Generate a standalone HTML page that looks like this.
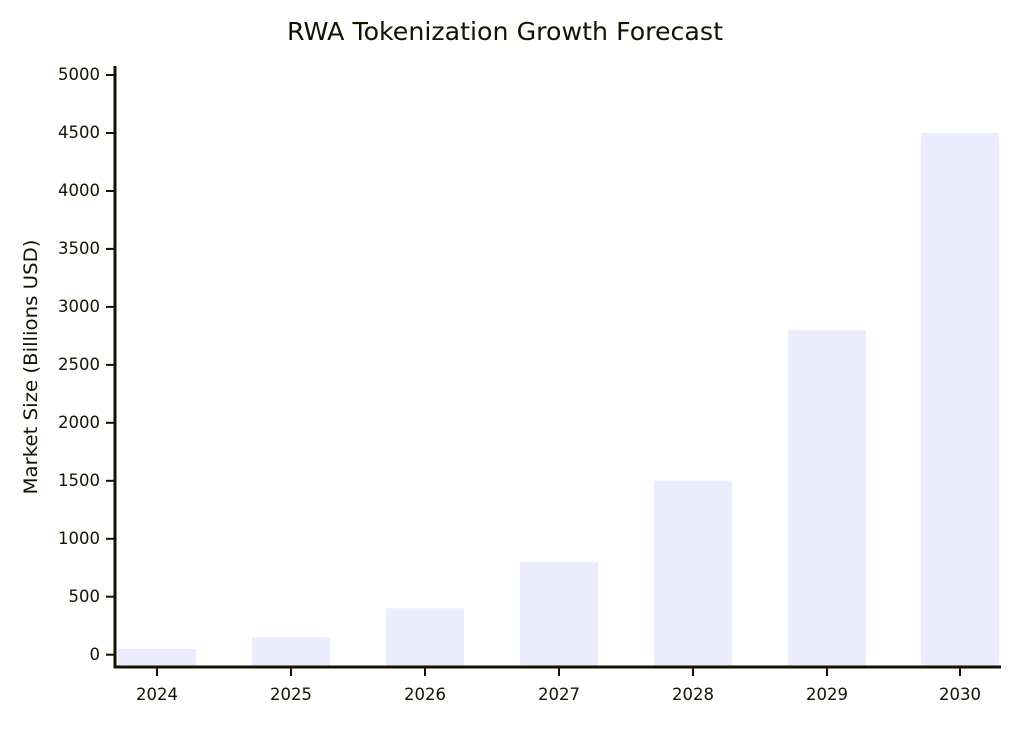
<!DOCTYPE html><html><head><style>body{margin:0;background:#fff}svg{display:block}text{font-family:"DejaVu Sans","Liberation Sans",sans-serif;fill:#131300}</style></head><body>
<svg width="1036" height="734" xmlns="http://www.w3.org/2000/svg">
<text x="505" y="40" font-size="25" text-anchor="middle" textLength="436" lengthAdjust="spacingAndGlyphs">RWA Tokenization Growth Forecast</text>
<text transform="translate(37,367) rotate(-90)" font-size="19" text-anchor="middle" textLength="255" lengthAdjust="spacingAndGlyphs">Market Size (Billions USD)</text>
<g fill="#ececff">
<rect x="118" y="649" width="78" height="17"/>
<rect x="252" y="637.3" width="78" height="28.7"/>
<rect x="386" y="608.3" width="78" height="57.7"/>
<rect x="520" y="562" width="78" height="104"/>
<rect x="654" y="480.8" width="78" height="185.2"/>
<rect x="788" y="330.1" width="78" height="335.9"/>
<rect x="921" y="133" width="78" height="533"/>
</g>
<g stroke="#131300" stroke-width="3" fill="none">
<line x1="115" y1="66" x2="115" y2="668"/>
<line x1="114" y1="667" x2="1001" y2="667"/>
</g>
<g stroke="#131300" stroke-width="2">
<line x1="106" x2="114" y1="654.7" y2="654.7"/><line x1="106" x2="114" y1="596.7" y2="596.7"/><line x1="106" x2="114" y1="538.8" y2="538.8"/><line x1="106" x2="114" y1="480.8" y2="480.8"/><line x1="106" x2="114" y1="422.8" y2="422.8"/><line x1="106" x2="114" y1="364.9" y2="364.9"/><line x1="106" x2="114" y1="306.9" y2="306.9"/><line x1="106" x2="114" y1="248.9" y2="248.9"/><line x1="106" x2="114" y1="191" y2="191"/><line x1="106" x2="114" y1="133" y2="133"/><line x1="106" x2="114" y1="75" y2="75"/>
<line x1="157" x2="157" y1="668" y2="676"/><line x1="291" x2="291" y1="668" y2="676"/><line x1="425" x2="425" y1="668" y2="676"/><line x1="559" x2="559" y1="668" y2="676"/><line x1="693" x2="693" y1="668" y2="676"/><line x1="827" x2="827" y1="668" y2="676"/><line x1="960" x2="960" y1="668" y2="676"/>
</g>
<g font-size="16.5" text-anchor="end">
<text x="100" y="660">0</text><text x="100" y="602">500</text><text x="100" y="544">1000</text><text x="100" y="486">1500</text><text x="100" y="428">2000</text><text x="100" y="370">2500</text><text x="100" y="312">3000</text><text x="100" y="254">3500</text><text x="100" y="196">4000</text><text x="100" y="138">4500</text><text x="100" y="80">5000</text>
</g>
<g font-size="16.5" text-anchor="middle">
<text x="157" y="700">2024</text><text x="291" y="700">2025</text><text x="425" y="700">2026</text><text x="559" y="700">2027</text><text x="693" y="700">2028</text><text x="827" y="700">2029</text><text x="960" y="700">2030</text>
</g>
</svg></body></html>
